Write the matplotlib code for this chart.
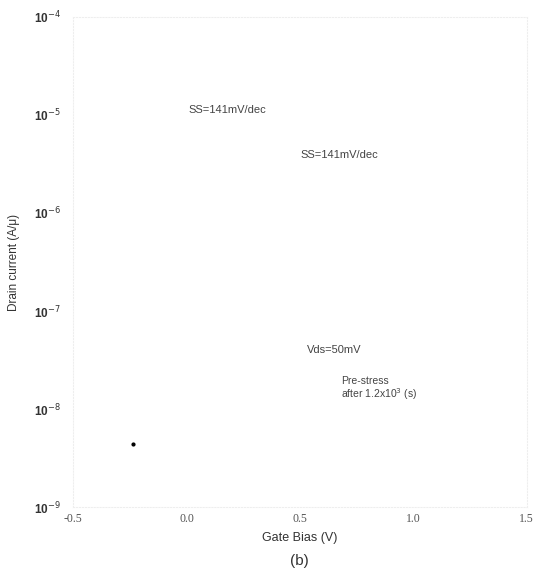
import numpy as np
import matplotlib.pyplot as plt

plt.rcParams['font.family'] = ['Liberation Sans', 'DejaVu Sans']

# axis ranges / ticks
x_ticks = [-0.5, 0.0, 0.5, 1.0, 1.5]
x_ticklabels = ['-0.5', '0.0', '0.5', '1.0', '1.5']
y_exps = [-9, -8, -7, -6, -5, -4]

# the only mark still visible in the scan
pt_vg = [-0.235]
pt_id = [4.4e-9]

# annotations (text, x, y)
notes = ['SS=141mV/dec', 'SS=141mV/dec', 'Vds=50mV']
note_x = [0.01, 0.50, 0.53]
note_y = [1.05e-5, 3.6e-6, 3.7e-8]

fig = plt.figure(figsize=(5.42, 5.81), dpi=100)
ax = fig.add_axes([0.135, 0.127, 0.837, 0.844])
ax.set_yscale('log')
ax.set_xlim(-0.5, 1.5)
ax.set_ylim(1e-9, 1e-4)

ax.plot(pt_vg, pt_id, 'o', color='black', ms=2)

for s in ax.spines.values():
    s.set_color('#eeeeee')
    s.set_linestyle(':')
    s.set_linewidth(0.8)

ax.set_xticks(x_ticks)
ax.set_xticklabels(x_ticklabels, family='Liberation Serif', fontsize=8.5, color='#555555')
ax.set_yticks([10.0**e for e in y_exps])
ax.set_yticklabels(['10$^{%d}$' % e for e in y_exps], fontsize=8.5,
                   fontweight='bold', color='#333333')
ax.minorticks_off()
ax.tick_params(axis='y', length=0, pad=9)
ax.tick_params(axis='x', length=0, pad=4)

ax.set_xlabel('Gate Bias (V)', fontsize=9, color='#333333', labelpad=5)
ax.set_ylabel('Drain current (A/\u03bc)', fontsize=8.5, color='#333333', labelpad=10)
fig.text(0.553, 0.027, '(b)', fontsize=11, color='#333333', ha='center')

for t, x, y in zip(notes, note_x, note_y):
    ax.text(x, y, t, fontsize=8, color='#444444')
ax.text(0.68, 1.3e-8, 'Pre-stress\nafter 1.2x10$^{3}$ (s)', fontsize=7.5,
        color='#444444', linespacing=1.0)

fig.savefig('out.png', dpi=100)
